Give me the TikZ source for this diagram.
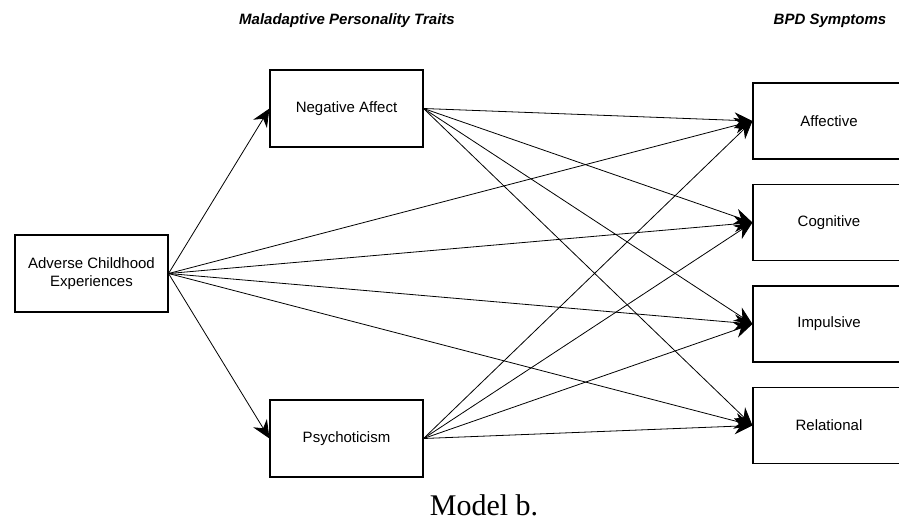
\documentclass[tikz,border=0pt]{standalone}
\usepackage{fontspec}
\setmainfont{Liberation Sans}
\newfontfamily\serifcap{Liberation Serif}
\usetikzlibrary{arrows.meta}
\begin{document}
\begin{tikzpicture}[x=1pt,y=-1pt,
  box/.style={draw,line width=1.1pt,minimum width=153pt,minimum height=77pt,inner sep=0pt,align=center,font=\fontsize{15}{18}\selectfont},
  rbox/.style={box,minimum width=152pt,minimum height=76pt},
  conn/.style={line width=0.8pt,-{Stealth[length=18pt,width=16pt,inset=6pt]}},
  head/.style={font=\fontsize{15}{18}\selectfont\bfseries\itshape,anchor=base,inner sep=0pt}]
\useasboundingbox (0,0) rectangle (899,520);
\fill[white] (0,0) rectangle (899,520);
\node[head] (h1) at (347,24) {Maladaptive Personality Traits};
\node[head] (h2) at (830,24) {BPD Symptoms};
\node[box] (ace) at (91.5,273.5) {Adverse Childhood\\Experiences};
\node[box] (na) at (346.5,108.5) {Negative Affect};
\node[box] (psy) at (346.5,438.5) {Psychoticism};
\node[rbox] (aff) at (829,121) {Affective};
\node[rbox] (cog) at (829,222.5) {Cognitive};
\node[rbox] (imp) at (829,324) {Impulsive};
\node[rbox] (rel) at (829,425.5) {Relational};
\node[font=\serifcap\fontsize{30}{36}\selectfont,anchor=base,inner sep=0pt] (cap) at (484,515) {Model b.};
\draw[conn] (ace.east) -- (na.west);
\draw[conn] (ace.east) -- (psy.west);
\foreach \t in {aff,cog,imp,rel}{
  \draw[conn] (ace.east) -- (\t.west);
  \draw[conn] (na.east) -- (\t.west);
  \draw[conn] (psy.east) -- (\t.west);
}
\end{tikzpicture}
\end{document}
